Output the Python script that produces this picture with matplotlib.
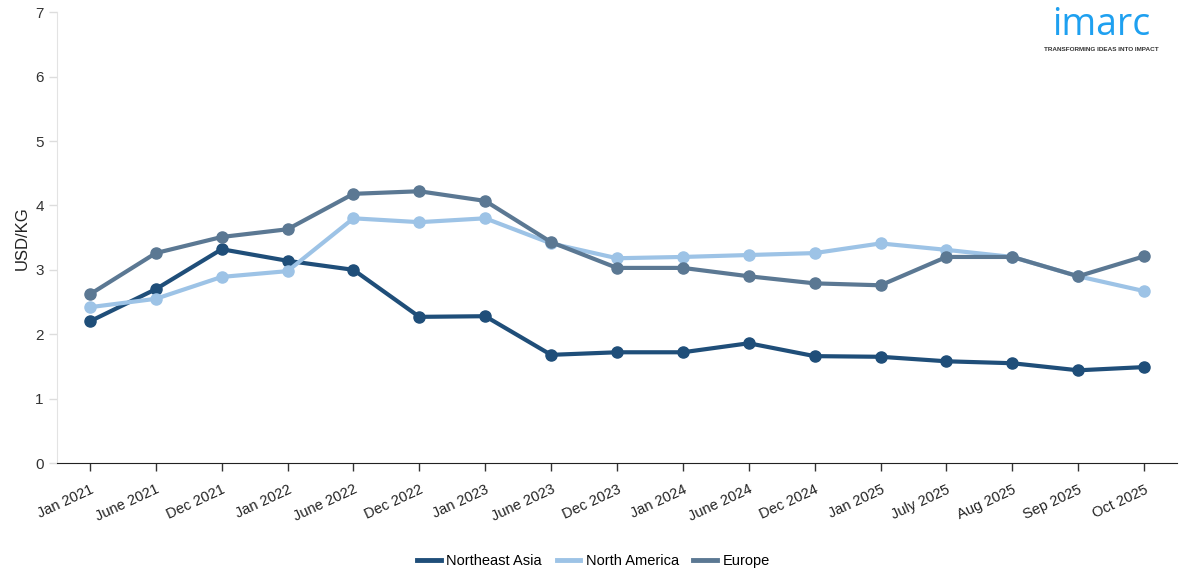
import matplotlib.pyplot as plt
from matplotlib.lines import Line2D

plt.rcParams['font.family'] = ['Liberation Sans', 'DejaVu Sans']

dates = ['Jan 2021', 'June 2021', 'Dec 2021', 'Jan 2022', 'June 2022', 'Dec 2022',
         'Jan 2023', 'June 2023', 'Dec 2023', 'Jan 2024', 'June 2024', 'Dec 2024',
         'Jan 2025', 'July 2025', 'Aug 2025', 'Sep 2025', 'Oct 2025']
northeast_asia = [2.20, 2.70, 3.32, 3.14, 3.00, 2.27, 2.28, 1.68, 1.72, 1.72, 1.86,
                  1.66, 1.65, 1.58, 1.55, 1.44, 1.49]
north_america = [2.42, 2.55, 2.89, 2.98, 3.80, 3.74, 3.80, 3.41, 3.18, 3.20, 3.23,
                 3.26, 3.41, 3.31, 3.20, 2.90, 2.67]
europe = [2.62, 3.26, 3.51, 3.63, 4.18, 4.22, 4.07, 3.43, 3.03, 3.03, 2.90,
          2.79, 2.76, 3.20, 3.20, 2.90, 3.21]

series = [('Northeast Asia', northeast_asia, '#1f4e79'),
          ('North America', north_america, '#9dc3e6'),
          ('Europe', europe, '#5b7893')]

fig = plt.figure(figsize=(11.87, 5.81), dpi=100)
ax = fig.add_axes([0.048, 0.203, 0.9436, 0.776])

x = list(range(len(dates)))
for name, vals, col in series:
    ax.plot(x, vals, color=col, lw=3, marker='o', ms=8, label=name, zorder=3)

ax.set_xlim(-0.5, len(dates) - 0.5)
ax.set_ylim(0, 7)
ax.set_yticks(range(8))
ax.set_xticks(x)
ax.set_xticklabels(dates, rotation=25, ha='right', rotation_mode='anchor', fontsize=10.5)
ax.tick_params(axis='y', labelsize=11, color='#dddddd', length=6, width=1, labelcolor='#333333')
ax.tick_params(axis='x', color='#333333', length=6, width=1, labelcolor='#222222', pad=8)
ax.spines['top'].set_visible(False)
ax.spines['right'].set_visible(False)
ax.spines['left'].set_color('#e3e3e3')
ax.spines['bottom'].set_color('#222222')
ax.set_ylabel('USD/KG', fontsize=12, color='#222222')

handles = [Line2D([0], [0], color=c, lw=3.5) for _, _, c in series]
fig.legend(handles, [n for n, _, _ in series], loc='center', bbox_to_anchor=(0.5, 0.035),
           ncol=3, frameon=False, fontsize=10.5, handlelength=1.6, columnspacing=1.0,
           handletextpad=0.4)

# logo
fig.text(0.928, 0.94, 'imarc', color='#1ea0f0', fontsize=27, ha='center', va='baseline',
         family='Open Sans')
fig.text(0.928, 0.912, 'TRANSFORMING IDEAS INTO IMPACT', color='#333333', fontsize=4.6,
         ha='center', va='baseline', fontweight='bold')

fig.savefig('out.png', dpi=100)
